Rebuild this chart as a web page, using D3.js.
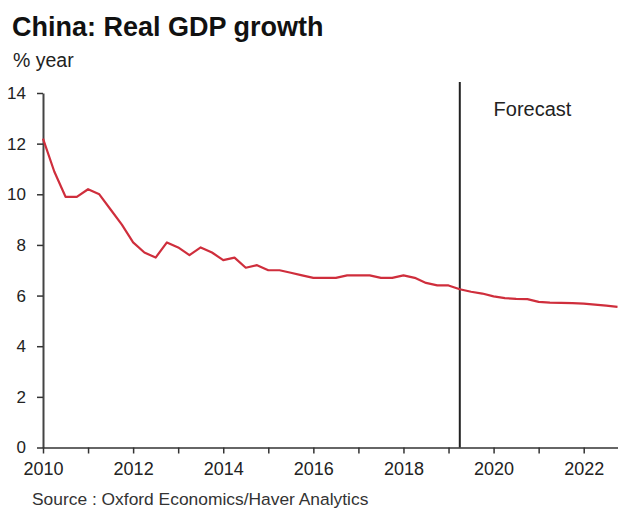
<!DOCTYPE html>
<html>
<head>
<meta charset="utf-8">
<script src="https://cdn.jsdelivr.net/npm/d3@7"></script>
<style>
  body { margin: 0; background: #fff; }
  svg { display: block; font-family: 'Liberation Sans', Arial, sans-serif; }
</style>
</head>
<body>
<div class="chart"></div>
<script>
// DATA
// ----------------------------
const quarters = [
  '2010Q1', '2010Q2', '2010Q3', '2010Q4',
  '2011Q1', '2011Q2', '2011Q3', '2011Q4',
  '2012Q1', '2012Q2', '2012Q3', '2012Q4',
  '2013Q1', '2013Q2', '2013Q3', '2013Q4',
  '2014Q1', '2014Q2', '2014Q3', '2014Q4',
  '2015Q1', '2015Q2', '2015Q3', '2015Q4',
  '2016Q1', '2016Q2', '2016Q3', '2016Q4',
  '2017Q1', '2017Q2', '2017Q3', '2017Q4',
  '2018Q1', '2018Q2', '2018Q3', '2018Q4',
  '2019Q1', '2019Q2', '2019Q3', '2019Q4',
  '2020Q1', '2020Q2', '2020Q3', '2020Q4',
  '2021Q1', '2021Q2', '2021Q3', '2021Q4',
  '2022Q1', '2022Q2', '2022Q3', '2022Q4',
]
const gdpGrowth = [
  12.2, 10.9, 9.9, 9.9,
  10.2, 10.0, 9.4, 8.8,
  8.1, 7.7, 7.5, 8.1,
  7.9, 7.6, 7.9, 7.7,
  7.4, 7.5, 7.1, 7.2,
  7.0, 7.0, 6.9, 6.8,
  6.7, 6.7, 6.7, 6.8,
  6.8, 6.8, 6.7, 6.7,
  6.8, 6.7, 6.5, 6.4,
  6.4, 6.25, 6.15, 6.08,
  5.97, 5.9, 5.87, 5.86,
  5.75, 5.72, 5.71, 5.7,
  5.68, 5.64, 5.6, 5.55,
]
const forecastStart = '2019Q2'
const yTicks = [0, 2, 4, 6, 8, 10, 12, 14]
const xTickYears = [2010, 2011, 2012, 2013, 2014, 2015, 2016, 2017, 2018, 2019, 2020, 2021, 2022]
const xLabelYears = [2010, 2012, 2014, 2016, 2018, 2020, 2022]

// quarter string -> decimal year
const toYear = q => +q.slice(0, 4) + (+q.slice(5) - 1) / 4
const data = quarters.map((q, i) => ({ t: toYear(q), v: gdpGrowth[i] }))

// SETUP
// ----------------------------
const fullWidth = 618
const fullHeight = 508
const margin = { top: 93, bottom: 60.5, left: 43, right: 0.5 }
const width = fullWidth - margin.left - margin.right
const height = fullHeight - margin.top - margin.bottom

const root = d3.select('.chart')
  .append('svg')
    .attr('width', fullWidth)
    .attr('height', fullHeight)
const svg = root.append('g')
    .attr('transform', `translate(${margin.left}, ${margin.top})`)

// SCALES
// ----------------------------
const xScale = d3.scaleLinear()
  .domain([2010, toYear('2022Q4')])
  .range([0, width])
const yScale = d3.scaleLinear()
  .domain([0, 14])
  .range([height, 0])

// Y AXIS
// ----------------------------
const yAxis = d3.axisLeft(yScale)
  .tickValues(yTicks)
  .tickSize(6)
  .tickSizeOuter(0)
  .tickPadding(11)
const yG = svg.append('g').call(yAxis)
yG.select('.domain').attr('stroke', '#444').attr('stroke-width', 2)
yG.selectAll('line').attr('stroke', '#333').attr('stroke-width', 1.5)
yG.selectAll('text')
  .style('font-size', '17px')
  .attr('fill', '#222')

// X AXIS
// ----------------------------
const xAxis = d3.axisBottom(xScale)
  .tickValues(xTickYears)
  .tickFormat(d => xLabelYears.includes(d) ? d : '')
  .tickSize(6)
  .tickSizeOuter(0)
  .tickPadding(9)
const xG = svg.append('g')
    .attr('transform', `translate(0, ${height})`)
  .call(xAxis)
xG.select('.domain').attr('stroke', '#333').attr('stroke-width', 1.5)
xG.selectAll('line').attr('stroke', '#333').attr('stroke-width', 1.5)
xG.selectAll('text')
  .style('font-size', '18px')
  .attr('fill', '#222')

// FORECAST MARKER
// ----------------------------
svg.append('line')
  .attr('x1', xScale(toYear(forecastStart)))
  .attr('x2', xScale(toYear(forecastStart)))
  .attr('y1', yScale(14) - 11)
  .attr('y2', height)
  .attr('stroke', '#222')
  .attr('stroke-width', 2)
svg.append('text')
  .attr('x', xScale(2020))
  .attr('y', 23)
  .style('font-size', '20px')
  .attr('fill', '#222')
  .text('Forecast')

// LINE
// ----------------------------
const line = d3.line()
  .x(d => xScale(d.t))
  .y(d => yScale(d.v))
svg.append('path')
  .datum(data)
  .attr('fill', 'none')
  .attr('stroke', '#cf2e3c')
  .attr('stroke-width', 2.2)
  .attr('stroke-linejoin', 'round')
  .attr('d', line)

// TITLES
// ----------------------------
root.append('text')
  .attr('x', 12)
  .attr('y', 36)
  .style('font-size', '27px')
  .style('font-weight', 'bold')
  .attr('fill', '#111')
  .text('China: Real GDP growth')
root.append('text')
  .attr('x', 13)
  .attr('y', 67)
  .style('font-size', '19.5px')
  .attr('fill', '#222')
  .text('% year')
root.append('text')
  .attr('x', 32)
  .attr('y', 505)
  .style('font-size', '17.4px')
  .attr('fill', '#333')
  .text('Source : Oxford Economics/Haver Analytics')
</script>
</body>
</html>
